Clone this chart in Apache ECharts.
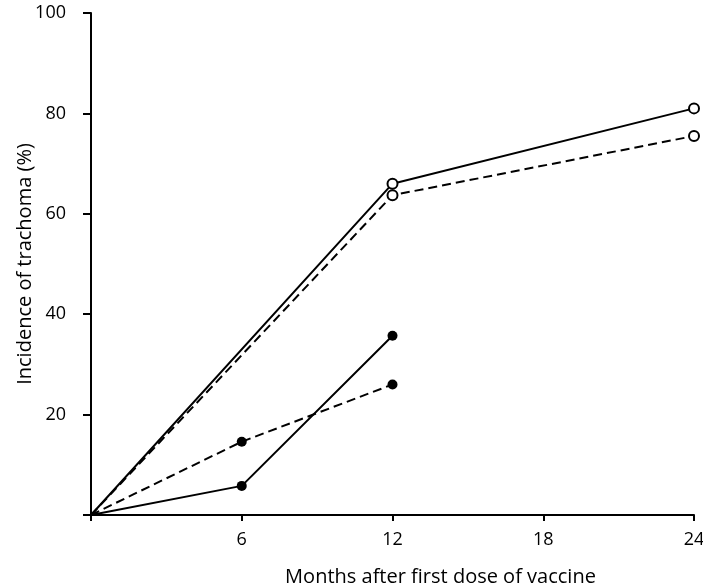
<!DOCTYPE html>
<html>
<head>
<meta charset="utf-8">
<script src="https://cdn.jsdelivr.net/npm/echarts@6/dist/echarts.min.js"></script>
<style>html,body{margin:0;padding:0;background:#fff}#c{width:703px;height:587px}</style>
</head>
<body>
<div id="c"></div>
<script>
var xTicks = [0, 6, 12, 18, 24];
var yTicks = [0, 20, 40, 60, 80, 100];
var openSolidX = [0, 12, 24];
var openSolidY = [0, 66, 81];
var openDashX = [0, 12, 24];
var openDashY = [0, 63.7, 75.5];
var filledSolidX = [0, 6, 12];
var filledSolidY = [0, 5.8, 35.7];
var filledDashX = [0, 6, 12];
var filledDashY = [0, 14.6, 26];

function pts(xs, ys) { return xs.map(function (x, i) { return [x, ys[i]]; }); }
var FONT = 'Open Sans';
function mk(name, xs, ys, dashed, filled) {
  return {
    name: name, type: 'line', data: pts(xs, ys),
    symbol: 'circle', symbolSize: function (v) { return v[0] === 0 ? 0 : 10; },
    lineStyle: { color: '#000', width: 2, type: dashed ? [9, 5] : 'solid' },
    itemStyle: { color: filled ? '#000' : '#fff', borderColor: '#000', borderWidth: filled ? 0 : 2 },
    z: filled ? 3 : 4, animation: false
  };
}
var chart = echarts.init(document.getElementById('c'));
chart.setOption({
  backgroundColor: '#fff',
  animation: false,
  grid: { left: 91, right: 9, top: 13, bottom: 72, containLabel: false, outerBoundsMode: 'none' },
  xAxis: {
    type: 'value', min: xTicks[0], max: xTicks[xTicks.length - 1], interval: 6,
    name: 'Months after first dose of vaccine', nameLocation: 'middle', nameGap: 52,
    nameMoveOverlap: false,
    nameTextStyle: { fontFamily: FONT, fontSize: 20, color: '#000', padding: [0, 0, 0, 96] },
    axisLine: { lineStyle: { color: '#000', width: 2 } },
    axisTick: { show: true, length: 6, lineStyle: { color: '#000', width: 2 } },
    axisLabel: { fontFamily: FONT, fontSize: 18, color: '#000', margin: 16,
      formatter: function (v) { return v === 0 ? '' : String(v); } },
    splitLine: { show: false }
  },
  yAxis: {
    type: 'value', min: yTicks[0], max: yTicks[yTicks.length - 1], interval: 20,
    name: 'Incidence of trachoma (%)', nameLocation: 'middle', nameGap: 56,
    nameMoveOverlap: false,
    nameTextStyle: { fontFamily: FONT, fontSize: 20, color: '#000' },
    axisLine: { lineStyle: { color: '#000', width: 2 } },
    axisTick: { show: true, length: 8, lineStyle: { color: '#000', width: 2 } },
    axisLabel: { fontFamily: FONT, fontSize: 18, color: '#000', margin: 25,
      formatter: function (v) { return v === 0 ? '' : String(v); } },
    splitLine: { show: false }
  },
  series: [
    mk('open solid', openSolidX, openSolidY, false, false),
    mk('open dashed', openDashX, openDashY, true, false),
    mk('filled solid', filledSolidX, filledSolidY, false, true),
    mk('filled dashed', filledDashX, filledDashY, true, true)
  ]
});
</script>
</body>
</html>
